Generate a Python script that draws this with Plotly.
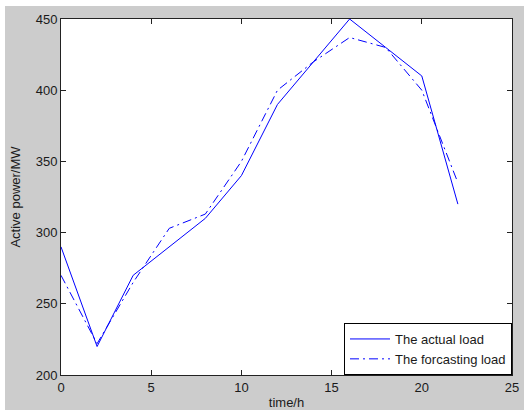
import plotly.graph_objects as go

hours = [0, 2, 4, 6, 8, 10, 12, 14, 16, 18, 20, 22]
actual_load = [290, 220, 270, 290, 310, 340, 390, 420, 450, 430, 410, 320]
forecast_load = [270, 222, 265, 303, 313, 350, 400, 420, 437, 430, 400, 335]
x_ticks = [0, 5, 10, 15, 20, 25]
y_ticks = [200, 250, 300, 350, 400, 450]

W, H = 524, 410
ML, MR, MT, MB = 61, 12, 19, 35
PW, PH = W - ML - MR, H - MT - MB

fig = go.Figure()
fig.add_trace(go.Scatter(x=hours, y=actual_load, mode="lines", name="The actual load",
                         line=dict(color="#0000ff", width=1)))
fig.add_trace(go.Scatter(x=hours, y=forecast_load, mode="lines", name="The forcasting load",
                         line=dict(color="#0000ff", width=1, dash="9px,4px,2px,4px")))

font = dict(family="Liberation Sans, Arial, sans-serif", size=13, color="#1a1a1a")
axis_common = dict(showline=True, linecolor="#222222", linewidth=1, mirror="ticks",
                   ticks="inside", ticklen=5, tickcolor="#222222", showgrid=False,
                   zeroline=False, automargin=False, tickfont=font)

fig.update_layout(
    width=W, height=H,
    margin=dict(l=ML, r=MR, t=MT, b=MB),
    paper_bgcolor="#cccccc", plot_bgcolor="white",
    font=font,
    showlegend=True,
    legend=dict(x=1, y=0, xanchor="right", yanchor="bottom", bgcolor="white",
                bordercolor="#000000", borderwidth=1, font=font,
                itemwidth=40, tracegroupgap=0),
    xaxis=dict(range=[0, 25], tickvals=x_ticks, title=dict(text="time/h", font=font, standoff=8),
               **axis_common),
    yaxis=dict(range=[200, 450], tickvals=y_ticks,
               title=dict(text="Active power/MW", font=font, standoff=12), **axis_common),
)

# white border strips at the top and left of the figure
def px_x(p):
    return (p - ML) / PW

def px_y(p):
    return (H - MB - p) / PH

fig.add_shape(type="rect", xref="paper", yref="paper", x0=px_x(-2), x1=px_x(W + 2),
              y0=px_y(6), y1=px_y(-2), fillcolor="white", line=dict(width=0), layer="above")
fig.add_shape(type="rect", xref="paper", yref="paper", x0=px_x(-2), x1=px_x(5),
              y0=px_y(H + 2), y1=px_y(-2), fillcolor="white", line=dict(width=0), layer="above")

fig.write_html("out.html", config={"displayModeBar": False},
               post_script="document.body.style.margin='0';document.body.style.overflow='hidden';")
